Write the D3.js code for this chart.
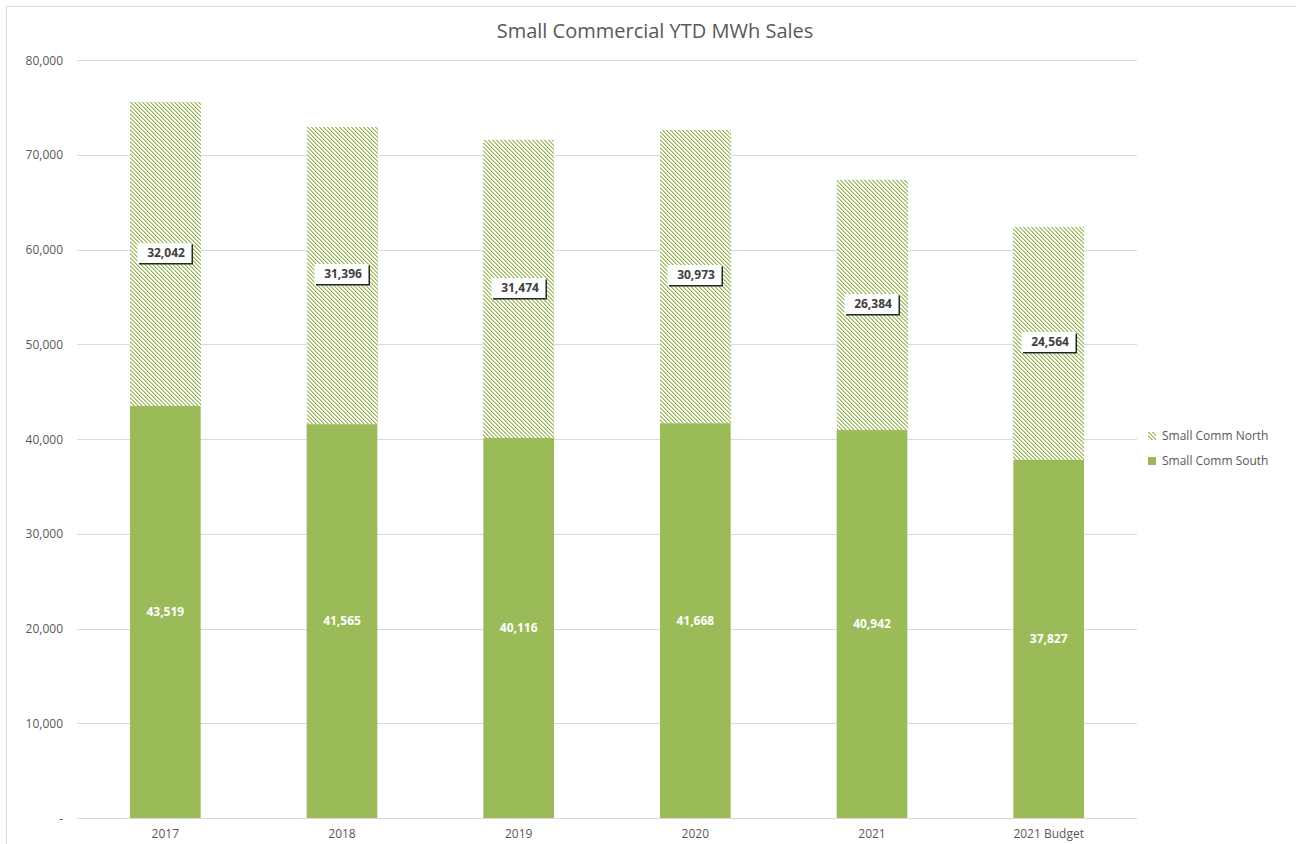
<!DOCTYPE html>
<html><head><meta charset="utf-8">
<script src="https://cdn.jsdelivr.net/npm/d3@7"></script>
<style>body{margin:0;background:#fff}svg{display:block}text{font-family:"Open Sans","Liberation Sans",sans-serif}</style>
</head><body><svg id="c" width="1296" height="844"></svg>
<script>
const categories = ["2017","2018","2019","2020","2021","2021 Budget"];
const southValues = [43519,41565,40116,41668,40942,37827];
const northValues = [32042,31396,31474,30973,26384,24564];
const yTicks = [0,10000,20000,30000,40000,50000,60000,70000,80000];
const seriesNames = ["Small Comm North","Small Comm South"];

const svg = d3.select("#c");
const green = "#9BBB59", textCol = "#595959", grid = "#d9d9d9";

const defs = svg.append("defs");
const pat = defs.append("pattern").attr("id","hatch").attr("patternUnits","userSpaceOnUse")
  .attr("width",4).attr("height",4);
pat.append("rect").attr("width",4).attr("height",4).attr("fill","#fff");
for (let r=0;r<4;r++){
  pat.append("rect").attr("x",r).attr("y",r).attr("width",1).attr("height",1).attr("fill",green);
  pat.append("rect").attr("x",(r+1)%4).attr("y",r).attr("width",1).attr("height",1).attr("fill",green).attr("fill-opacity",0.6);
}

svg.append("rect").attr("x",6.5).attr("y",6.5).attr("width",1300).attr("height",850)
  .attr("fill","#fff").attr("stroke",grid);

const x = d3.scaleBand().domain(categories).range([77,1137]).paddingInner(0.6).paddingOuter(0.3);
const y = d3.scaleLinear().domain([0,80000]).range([818,60]);

svg.append("g").selectAll("line").data(yTicks).join("line")
  .attr("x1",77).attr("x2",1137).attr("y1",d=>Math.round(y(d))+0.5).attr("y2",d=>Math.round(y(d))+0.5)
  .attr("stroke",grid).attr("stroke-width",1);

const yAxis = d3.axisLeft(y).tickValues(yTicks).tickSize(0).tickPadding(0)
  .tickFormat(d=> d===0 ? "-" : d3.format(",")(d));
const ya = svg.append("g").attr("transform","translate(63,0)").call(yAxis);
ya.select(".domain").remove();
ya.selectAll("text").attr("fill",textCol).style("font-size","12px").attr("dy","0.35em");

const xAxis = d3.axisBottom(x).tickSize(0).tickPadding(11);
const xa = svg.append("g").attr("transform","translate(0,818)").call(xAxis);
xa.select(".domain").remove();
xa.selectAll("text").attr("fill",textCol).style("font-size","12px");

const data = categories.map((c,i)=>({c, s:southValues[i], n:northValues[i]}));
svg.append("g").selectAll("rect.s").data(data).join("rect").attr("class","s")
  .attr("x",d=>x(d.c)).attr("width",x.bandwidth())
  .attr("y",d=>y(d.s)).attr("height",d=>y(0)-y(d.s)).attr("fill",green);
svg.append("g").attr("shape-rendering","crispEdges").selectAll("rect.n").data(data).join("rect").attr("class","n")
  .attr("x",d=>Math.round(x(d.c))).attr("width",Math.round(x.bandwidth()))
  .attr("y",d=>Math.round(y(d.s+d.n))).attr("height",d=>Math.round(y(d.s))-Math.round(y(d.s+d.n))).attr("fill","url(#hatch)");

// south labels
svg.append("g").selectAll("text").data(data).join("text")
  .attr("x",d=>x(d.c)+x.bandwidth()/2).attr("y",d=>y(d.s/2)).attr("dy","0.35em")
  .attr("text-anchor","middle").attr("fill","#fff").style("font-size","12px").style("font-weight","bold")
  .text(d=>d3.format(",")(d.s));

// north labels with box
const nl = svg.append("g").selectAll("g").data(data).join("g")
  .attr("transform",d=>`translate(${Math.round(x(d.c)+x.bandwidth()/2)},${Math.round(y(d.s+d.n/2))})`);
nl.append("rect").attr("x",-26).attr("y",-9.5).attr("width",54).attr("height",20).attr("fill","#262626");
nl.append("rect").attr("x",-27.5).attr("y",-11).attr("width",54).attr("height",20).attr("fill","#fff");
nl.append("text").attr("x",1).attr("dy","0.35em").attr("y",-1).attr("text-anchor","middle")
  .attr("fill","#404040").style("font-size","12px").style("font-weight","bold")
  .text(d=>d3.format(",")(d.n));

svg.append("text").attr("x",655).attr("y",31).attr("dy","0.35em").attr("text-anchor","middle")
  .attr("fill",textCol).style("font-size","20px").text("Small Commercial YTD MWh Sales");

const lg = svg.append("g").selectAll("g").data(seriesNames).join("g")
  .attr("transform",(d,i)=>`translate(1148,${436+i*25})`);
lg.append("rect").attr("x",0).attr("y",-4).attr("width",8).attr("height",8)
  .attr("fill",(d,i)=> i===0 ? "url(#hatch)" : green);
lg.append("text").attr("x",14).attr("dy","0.35em").attr("fill",textCol).style("font-size","12px").text(d=>d);
</script></body></html>
